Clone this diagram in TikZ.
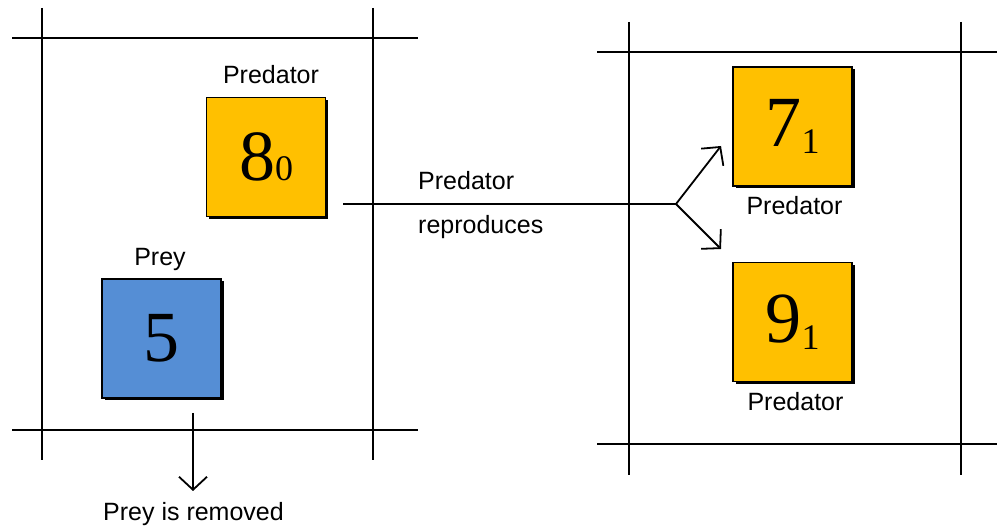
\documentclass[tikz,border=0pt]{standalone}
\usepackage{fontspec}
\setmainfont{Liberation Sans}
\newfontfamily\numfont{Liberation Serif}
\usetikzlibrary{arrows.meta}
\definecolor{predorange}{HTML}{FFC000}
\definecolor{preyblue}{HTML}{558ED5}
\tikzset{
  gridline/.style={line width=1.8pt},
  cellbox/.style={draw=black, line width=1.6pt, minimum width=119pt, minimum height=119pt, inner sep=0pt,
    font=\numfont\fontsize{72}{72}\selectfont,
    preaction={fill=black, transform canvas={shift={(2.5pt,-2.5pt)}}}},
  predbox/.style={cellbox, fill=predorange},
  preybox/.style={cellbox, fill=preyblue},
  lbl/.style={font=\fontsize{25}{28}\selectfont, inner sep=0pt, anchor=base},
  conn/.style={line width=1.8pt, -{Straight Barb[length=13pt,width=28pt,line width=1.8pt]}},
  plainconn/.style={line width=1.8pt}
}
\newcommand{\subsc}[2]{\raisebox{#1}{\fontsize{36}{36}\selectfont #2}}
\begin{document}
\begin{tikzpicture}[x=1pt,y=-1pt]
\useasboundingbox (0,0) rectangle (997,529);
% left grid
\draw[gridline] (12,38) -- (418,38);
\draw[gridline] (12,430) -- (418,430);
\draw[gridline] (42,8) -- (42,460);
\draw[gridline] (373,8) -- (373,460);
% right grid
\draw[gridline] (597,52) -- (997,52);
\draw[gridline] (597,444) -- (997,444);
\draw[gridline] (629,22) -- (629,475);
\draw[gridline] (961,22) -- (961,475);
% boxes
\node[predbox] (b8) at (266,157) {8\subsc{0pt}{0}};
\node[preybox] (b5) at (161.5,338.5) {5};
\node[predbox] (b7) at (792.5,126.5) {7\subsc{-7pt}{1}};
\node[predbox] (b9) at (792.5,322) {9\subsc{-7pt}{1}};
% labels
\node[lbl] (l8) at (271,84) {Predator};
\node[lbl] (l5) at (160,266) {Prey};
\node[lbl] (l7) at (794.5,215) {Predator};
\node[lbl] (l9) at (795.5,411) {Predator};
\node[lbl, anchor=base west] (lp) at (418,190) {Predator};
\node[lbl, anchor=base west] (lr) at (418,234) {reproduces};
\node[lbl] (lrem) at (193.5,520) {Prey is removed};
% connectors
\coordinate (start) at (343,204);
\coordinate (fork) at (676,204);
\coordinate (up) at (721,146);
\coordinate (down) at (721,249);
\coordinate (rs) at (193,413);
\coordinate (re) at (193,491);
\draw[plainconn] (start) -- (fork);
\draw[conn] (fork) -- (up);
\draw[conn] (fork) -- (down);
\draw[conn] (rs) -- (re);
\end{tikzpicture}
\end{document}
